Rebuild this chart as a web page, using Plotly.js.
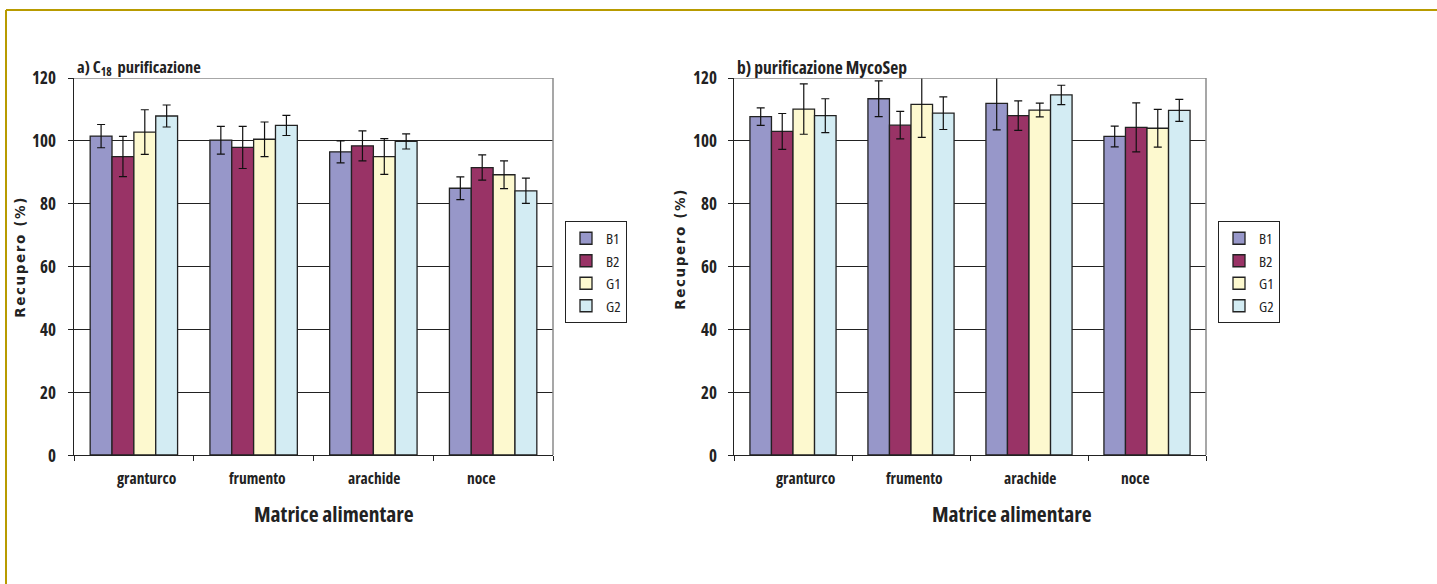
<!DOCTYPE html>
<html>
<head>
<meta charset="utf-8">
<script src="https://cdn.plot.ly/plotly-3.0.1.min.js"></script>
<style>
  html, body { margin: 0; padding: 0; background: #fff; }
  #chart { width: 1437px; height: 584px; }
  text { font-stretch: 75% !important; }
  .annotation[data-index="4"] text, .annotation[data-index="5"] text { font-stretch: 100% !important; letter-spacing: 1.6px; }
</style>
</head>
<body>
<div id="chart"></div>
<script>
// ---- data ----
const categories = ["granturco", "frumento", "arachide", "noce"];
const seriesNames = ["B1", "B2", "G1", "G2"];

// a) C18 purificazione
const c18_B1 = [101.5, 100.2, 96.5, 84.9];
const c18_B2 = [95.0, 97.9, 98.4, 91.5];
const c18_G1 = [102.8, 100.5, 95.0, 89.2];
const c18_G2 = [107.9, 104.9, 99.8, 84.1];
const c18_B1_err = [3.7, 4.4, 3.5, 3.6];
const c18_B2_err = [6.4, 6.7, 4.8, 4.0];
const c18_G1_err = [7.1, 5.5, 5.7, 4.4];
const c18_G2_err = [3.5, 3.2, 2.4, 4.0];

// b) purificazione MycoSep
const myco_B1 = [107.7, 113.4, 111.9, 101.4];
const myco_B2 = [103.0, 105.0, 108.0, 104.3];
const myco_G1 = [110.1, 111.6, 109.8, 104.0];
const myco_G2 = [108.0, 108.8, 114.6, 109.7];
const myco_B1_err = [2.8, 5.7, 8.4, 3.3];
const myco_B2_err = [5.7, 4.4, 4.7, 7.8];
const myco_G1_err = [8.0, 10.5, 2.2, 6.0];
const myco_G2_err = [5.4, 5.2, 3.1, 3.5];

const yTickVals = [0, 20, 40, 60, 80, 100, 120];

// ---- styling ----
const colors = ["#9797C9", "#993366", "#FDF9CF", "#D3ECF3"];
const FONT = "'Open Sans', 'DejaVu Sans Condensed', sans-serif";
const YTFONT = "'DejaVu Sans', sans-serif";

const W = 1437, H = 584;
const px = v => v / W;
const py = v => 1 - v / H;

function makeTraces(vals, errs, xa, ya, legendName) {
  return vals.map((v, i) => ({
    type: "bar",
    name: seriesNames[i],
    x: categories,
    y: v,
    xaxis: xa,
    yaxis: ya,
    legend: legendName,
    cliponaxis: false,
    marker: { color: colors[i], line: { color: "#222", width: 1.3 } },
    error_y: { type: "data", array: errs[i], visible: true, color: "#111", thickness: 1.2, width: 4 }
  }));
}

const traces = [
  ...makeTraces([c18_B1, c18_B2, c18_G1, c18_G2], [c18_B1_err, c18_B2_err, c18_G1_err, c18_G2_err], "x", "y", "legend"),
  ...makeTraces([myco_B1, myco_B2, myco_G1, myco_G2], [myco_B1_err, myco_B2_err, myco_G1_err, myco_G2_err], "x2", "y2", "legend2")
];

function xAxis(domain, anchor) {
  return {
    domain: domain, anchor: anchor,
    type: "category",
    tickson: "boundaries",
    ticks: "outside", ticklen: 5, tickcolor: "#222", tickwidth: 1,
    showline: true, linecolor: "#222", linewidth: 1.2,
    showgrid: false, zeroline: false,
    showticklabels: false
  };
}
function yAxis(domain, anchor) {
  return {
    domain: domain, anchor: anchor,
    range: [0, 120],
    tickvals: yTickVals,
    ticks: "outside", ticklen: 5, tickcolor: "#222", tickwidth: 1,
    showline: true, linecolor: "#222", linewidth: 1.2,
    showgrid: true, gridcolor: "#222", gridwidth: 1,
    zeroline: false,
    showticklabels: false
  };
}

const yDom = [py(455), py(78)];

// category labels (in the original they are not exactly centred)
const labelShift = [13, 4, 1, -12];
const extraAnns = [];
["x", "x2"].forEach(xa => {
  categories.forEach((c, i) => {
    extraAnns.push({
      xref: xa, yref: "paper", x: c, y: py(478), xshift: labelShift[i],
      xanchor: "center", yanchor: "middle", showarrow: false, text: c,
      font: { family: FONT, size: 15.5, weight: "bold", color: "#222" }
    });
  });
});
// y tick labels
[["y", 58], ["y2", 719]].forEach(([ya, xr]) => {
  yTickVals.forEach(v => {
    extraAnns.push({
      xref: "paper", yref: ya, x: px(xr), y: v,
      xanchor: "right", yanchor: "middle", showarrow: false, text: String(v),
      font: { family: FONT, size: 17, weight: "bold", color: "#222" }
    });
  });
});

const legendCommon = {
  xanchor: "left", yanchor: "top",
  bordercolor: "#222", borderwidth: 1, bgcolor: "#fff",
  font: { family: FONT, size: 15, color: "#222" },
  itemwidth: 30, tracegroupgap: 0
};

const layout = {
  width: W, height: H,
  margin: { l: 0, r: 0, t: 0, b: 0 },
  paper_bgcolor: "#fff",
  plot_bgcolor: "#fff",
  barmode: "group",
  bargap: 0.27,
  bargroupgap: 0,
  font: { family: FONT, color: "#222" },
  xaxis: xAxis([px(74), px(553)], "y"),
  yaxis: yAxis(yDom, "x"),
  xaxis2: xAxis([px(734), px(1206)], "y2"),
  yaxis2: yAxis(yDom, "x2"),
  legend: Object.assign({ x: px(565), y: py(221) }, legendCommon),
  legend2: Object.assign({ x: px(1218), y: py(221) }, legendCommon),
  shapes: [
    // gold frame
    { type: "line", xref: "paper", yref: "paper", x0: px(6), x1: 1, y0: py(10), y1: py(10), line: { color: "#B89B00", width: 2 } },
    { type: "line", xref: "paper", yref: "paper", x0: px(6), x1: px(6), y0: py(10), y1: 0, line: { color: "#B89B00", width: 2 } },
    // plot area borders (top and right, gray)
    { type: "line", xref: "x domain", yref: "y", x0: 0, x1: 1, y0: 120, y1: 120, line: { color: "#8a8a8a", width: 1.5 } },
    { type: "line", xref: "x domain", yref: "y", x0: 1, x1: 1, y0: 0, y1: 120, line: { color: "#8a8a8a", width: 1.5 } },
    { type: "line", xref: "x2 domain", yref: "y2", x0: 0, x1: 1, y0: 120, y1: 120, line: { color: "#8a8a8a", width: 1.5 } },
    { type: "line", xref: "x2 domain", yref: "y2", x0: 1, x1: 1, y0: 0, y1: 120, line: { color: "#8a8a8a", width: 1.5 } }
  ],
  annotations: [
    { xref: "paper", yref: "paper", x: px(139), y: py(67), xanchor: "center", yanchor: "middle", showarrow: false,
      text: "a) C<sub>18</sub>  purificazione", font: { family: FONT, size: 16.5, weight: "bold", color: "#222" } },
    { xref: "paper", yref: "paper", x: px(822), y: py(67), xanchor: "center", yanchor: "middle", showarrow: false,
      text: "b) purificazione MycoSep", font: { family: FONT, size: 17.5, weight: "bold", color: "#222" } },
    { xref: "paper", yref: "paper", x: px(334), y: py(513), xanchor: "center", yanchor: "middle", showarrow: false,
      text: "Matrice alimentare", font: { family: FONT, size: 21.5, weight: "bold", color: "#222" } },
    { xref: "paper", yref: "paper", x: px(1012), y: py(513), xanchor: "center", yanchor: "middle", showarrow: false,
      text: "Matrice alimentare", font: { family: FONT, size: 21.5, weight: "bold", color: "#222" } },
    { xref: "paper", yref: "paper", x: px(20), y: py(257), xanchor: "center", yanchor: "middle", showarrow: false, textangle: -90,
      text: "Recupero (%)", font: { family: YTFONT, size: 13.5, weight: "bold", color: "#222" } },
    { xref: "paper", yref: "paper", x: px(680), y: py(249), xanchor: "center", yanchor: "middle", showarrow: false, textangle: -90,
      text: "Recupero (%)", font: { family: YTFONT, size: 13.5, weight: "bold", color: "#222" } },
    ...extraAnns
  ]
};

Plotly.newPlot("chart", traces, layout, { displayModeBar: false, staticPlot: true });
</script>
</body>
</html>
